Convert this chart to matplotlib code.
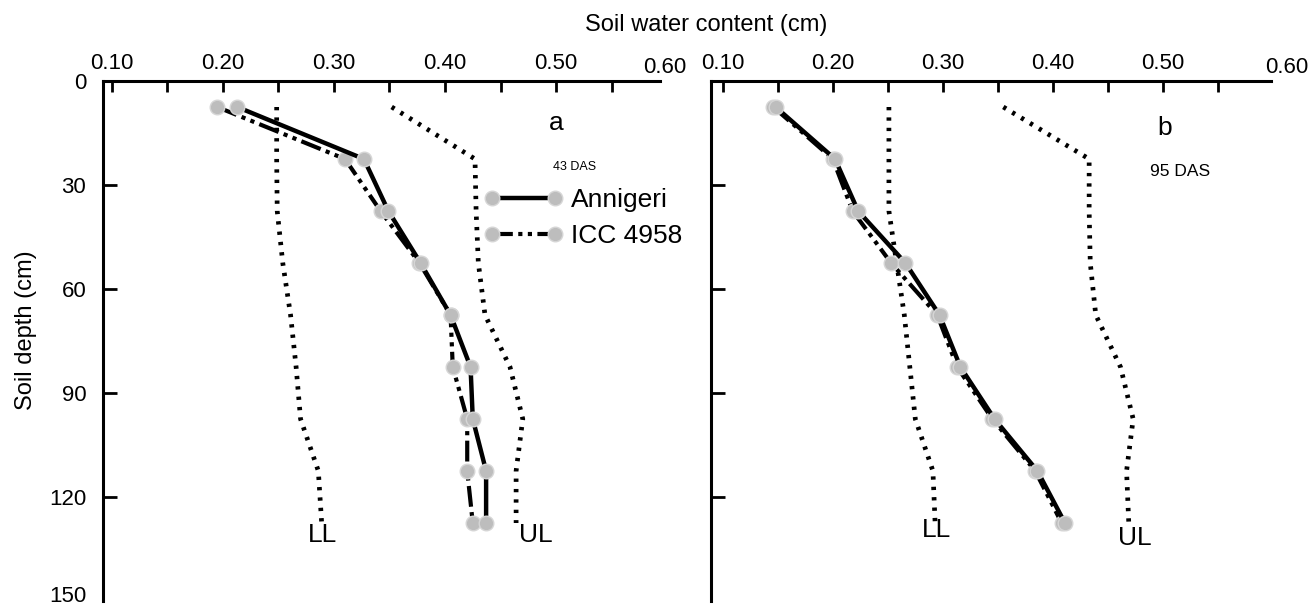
import matplotlib
matplotlib.use("Agg")
import matplotlib.pyplot as plt

plt.rcParams['font.family'] = ['Liberation Sans', 'DejaVu Sans']

# soil depth of each reading (cm)
depth = [7.5, 22.5, 37.5, 52.5, 67.5, 82.5, 97.5, 112.5, 127.5]

# panel a, 43 DAS
a_annigeri = [0.213, 0.327, 0.349, 0.378, 0.405, 0.423, 0.425, 0.437, 0.437]
a_icc = [0.195, 0.310, 0.342, 0.377, 0.405, 0.407, 0.420, 0.420, 0.425]
a_ll = [0.2485, 0.2485, 0.249, 0.254, 0.261, 0.266, 0.270, 0.286, 0.289]
a_ul = [0.352, 0.427, 0.428, 0.430, 0.436, 0.4585, 0.470, 0.464, 0.464]

# panel b, 95 DAS
b_annigeri = [0.148, 0.202, 0.223, 0.266, 0.297, 0.316, 0.347, 0.386, 0.411]
b_icc = [0.146, 0.200, 0.218, 0.253, 0.295, 0.313, 0.345, 0.384, 0.408]
b_ll = [0.251, 0.251, 0.251, 0.258, 0.265, 0.270, 0.275, 0.291, 0.293]
b_ul = [0.355, 0.433, 0.433, 0.434, 0.439, 0.4615, 0.473, 0.467, 0.469]

xticks = [0.10, 0.20, 0.30, 0.40, 0.50]
xminor = [0.15, 0.25, 0.35, 0.45, 0.55]
yticks = [0, 30, 60, 90, 120, 150]
ylabels = ['0', '30', '60', '90', '120', '']

W, H = 1315, 608
fig = plt.figure(figsize=(W / 100, H / 100), dpi=100)
top, bot = 81, 601
axa = fig.add_axes([103 / W, 1 - bot / H, (660 - 103) / W, (bot - top) / H])
axb = fig.add_axes([711 / W, 1 - bot / H, (1270.7 - 711) / W, (bot - top) / H])

mk = dict(marker='o', markersize=10.5, markerfacecolor='#bdbdbd',
          markeredgecolor='#d6d6d6', markeredgewidth=1)
icc_ls = (0, (5, 1.3, 1, 1.3, 1, 1.3))
dot_ls = (0, (0.7, 1.5))


def setup(ax, xlim, show_ylabels, x60):
    ax.set_xlim(*xlim)
    ax.set_ylim(150, 0)
    for s in ['bottom', 'right']:
        ax.spines[s].set_visible(False)
    for s in ['top', 'left']:
        ax.spines[s].set_linewidth(2.2)
    ax.xaxis.tick_top()
    ax.set_xticks(xticks)
    ax.set_xticklabels(['%.2f' % v for v in xticks])
    ax.set_xticks(xminor, minor=True)
    ax.tick_params(axis='x', which='both', direction='in', length=8, width=2,
                   labelsize=16, pad=5)
    ax.set_yticks(yticks)
    ax.set_yticklabels(ylabels)
    ax.tick_params(axis='y', direction='in', length=10, width=2, labelsize=16,
                   pad=12, labelleft=show_ylabels)
    ax.yaxis.get_major_ticks()[-1].tick1line.set_visible(False)
    ax.text(x60, -1.0, '0.60', fontsize=16, ha='center', va='bottom',
            clip_on=False, transform=ax.transData)
    if show_ylabels:
        ax.annotate('150', xy=(0, 150), xycoords=('axes fraction', 'data'),
                    xytext=(-12, 3), textcoords='offset points', fontsize=16,
                    ha='right', va='center')


def draw(ax, ann, icc, ll, ul, xlim, x60):
    setup(ax, xlim, ax is axa, x60)
    ax.plot(ll, depth, color='black', lw=3.4, linestyle=dot_ls)
    ax.plot(ul, depth, color='black', lw=3.4, linestyle=dot_ls)
    ax.plot(icc, depth, color='black', lw=3, linestyle=icc_ls, label='ICC 4958', **mk)
    ax.plot(ann, depth, color='black', lw=3.2, linestyle='-', label='Annigeri', **mk)
    for s in ax.spines.values():
        s.set_zorder(5)


draw(axa, a_annigeri, a_icc, a_ll, a_ul, (0.0922, 0.5935), 0.598)
draw(axb, b_annigeri, b_icc, b_ll, b_ul, (0.0893, 0.598), 0.613)

axa.text(0.290, 131, 'LL', fontsize=19, ha='center', va='center')
axa.text(0.482, 131, 'UL', fontsize=19, ha='center', va='center')
axb.text(0.2944, 129.5, 'LL', fontsize=19, ha='center', va='center')
axb.text(0.4744, 131.8, 'UL', fontsize=19, ha='center', va='center')

axa.text(0.5005, 12.1, 'a', fontsize=19, ha='center', va='center')
axa.text(0.517, 24.8, '43 DAS', fontsize=9, ha='center', va='center')
axb.text(0.5016, 13.6, 'b', fontsize=19, ha='center', va='center')
axb.text(0.5158, 26.2, '95 DAS', fontsize=12.5, ha='center', va='center')

h, l = axa.get_legend_handles_labels()
axa.legend(h[::-1], l[::-1], loc='upper left', frameon=False, fontsize=19,
           numpoints=2, handlelength=3.0, handletextpad=0.3, labelspacing=0.45,
           borderpad=0, borderaxespad=0,
           bbox_to_anchor=(484 / W, 1 - 188 / H), bbox_transform=fig.transFigure)

fig.text(706 / W, 1 - 25 / H, 'Soil water content (cm)', fontsize=17,
         ha='center', va='center')
fig.text(26 / W, 1 - 330 / H, 'Soil depth (cm)', fontsize=17, rotation=90,
         ha='center', va='center')

fig.savefig('out.png', dpi=100)
